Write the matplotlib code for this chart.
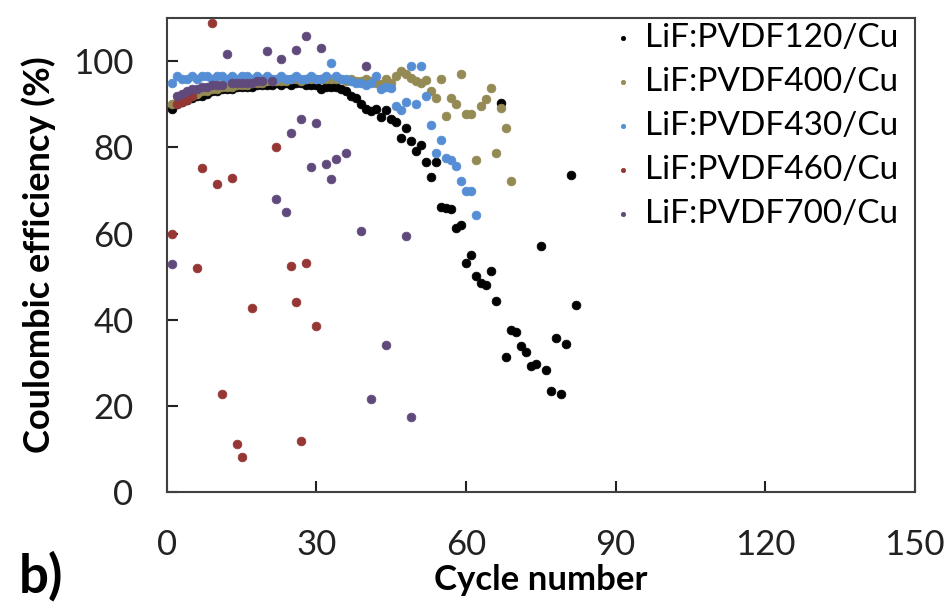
import matplotlib
matplotlib.use("Agg")
import matplotlib.pyplot as plt

plt.rcParams['font.family'] = ['Lato', 'DejaVu Sans']

# ---- data ----
x120 = list(range(1, 83))
y120 = [89, 90, 90.5, 91, 91.5, 92, 92, 92.5, 93, 93,
        93.5, 93.5, 93.5, 94, 94, 94, 94, 94.5, 94.5, 94.5,
        94.5, 95, 94.5, 95, 94.5, 95, 95, 94.5, 94.5, 94.5,
        93.5, 94, 94, 94, 93.5, 93, 92, 91.5, 90, 89,
        88.5, 89, 87, 88.8, 86.5, 86, 82.2, 84.6, 81.5, 79.1,
        80.5, 76.6, 73.1, 76.7, 66.2, 66, 65.7, 61.3, 61.9, 53.2,
        55.1, 50.1, 48.5, 48.1, 51.2, 44.3, 90.4, 31.4, 37.5, 37.1,
        33.9, 32.6, 29.3, 29.8, 57, 28.2, 23.5, 35.7, 22.8, 34.3,
        73.7, 43.5]

x400 = list(range(1, 70))
y400 = [90, 90.5, 91, 91.5, 92, 92.5, 93, 93, 93.5, 93.5,
        94, 94, 94, 94.5, 94.5, 94.5, 95, 95, 95, 95.5,
        95.5, 95.5, 95.5, 95.5, 96, 96, 95.5, 96, 96, 96,
        96, 96, 96, 96, 96, 95.5, 96, 95.5, 95.5, 96,
        95.5, 95, 94.7, 96, 95, 96.5, 97.7, 97, 96.2, 95.5,
        95, 95.6, 93, 91.5, 95.8, 87.4, 91.5, 90, 97.1, 87.7,
        87.7, 77, 89.6, 91.2, 93.9, 78.8, 89.2, 84.4, 72.2]

x430 = list(range(1, 63))
y430 = [95, 96.5, 96, 96, 96.5, 96, 96.5, 96.5, 96, 96.5,
        96.5, 96, 96.5, 96, 96.5, 96.5, 96, 96.5, 96, 96.5,
        96, 96, 96.5, 96, 96, 96.5, 96, 96, 96.5, 96,
        96, 96.5, 99.7, 96.5, 96, 96, 95.5, 95, 95, 94.5,
        95, 96.6, 93.5, 94, 93.9, 89.6, 88.8, 90.5, 98.8, 90,
        98.8, 91.9, 85.3, 78.6, 81.7, 77.6, 77, 75.7, 72.2, 69.8,
        69.8, 64.4]

x460 = [1, 2, 3, 4, 5, 6, 7, 9, 10, 11, 13, 14, 15, 17, 22, 25, 26, 27, 28, 30]
y460 = [60, 90, 90.5, 91, 92, 52, 75.3, 109, 71.6, 22.8, 73, 11.2, 8.1, 42.7,
        80, 52.4, 44.1, 11.7, 53.2, 38.5]

x700 = [1, 2, 3, 4, 5, 6, 7, 8, 9, 10, 11, 12, 13, 14, 15, 16, 17, 18, 19, 20,
        21, 22, 23, 24, 25, 26, 27, 28, 29, 30, 31, 32, 33, 34, 36, 39, 40, 41,
        44, 48, 49]
y700 = [53, 92, 92.5, 93, 93.5, 93.5, 94, 94, 94.5, 94.5, 94.5, 101.8, 95, 95,
        95, 95, 95, 95.5, 95.5, 102.4, 95.5, 68, 100.5, 65, 83.4, 102.6, 86.5,
        105.9, 75.5, 85.6, 103, 76.2, 72.6, 77.4, 78.8, 60.5, 98.9, 21.5, 34.2,
        59.4, 17.3]

series = [
    ("LiF:PVDF120/Cu", x120, y120, "#000000"),
    ("LiF:PVDF400/Cu", x400, y400, "#948A54"),
    ("LiF:PVDF430/Cu", x430, y430, "#558ED5"),
    ("LiF:PVDF460/Cu", x460, y460, "#953735"),
    ("LiF:PVDF700/Cu", x700, y700, "#604A7B"),
]

xticks = [0, 30, 60, 90, 120, 150]
yticks = [0, 20, 40, 60, 80, 100]

fig = plt.figure(figsize=(9.53, 6.08), dpi=100)
ax = fig.add_axes([0.175, 0.191, 0.785, 0.779])

for label, xs, ys, c in series:
    ax.scatter(xs, ys, s=40, color=c, edgecolors=c, linewidths=0.5,
               label=label, zorder=3, clip_on=True)

ax.set_xlim(0, 150)
ax.set_ylim(0, 110)
ax.set_xticks(xticks)
ax.set_yticks(yticks)
ax.tick_params(direction='in', length=8, width=1.5, labelsize=25,
               colors='#222222')
ax.tick_params(axis='y', pad=24)
ax.tick_params(axis='x', pad=27)
for sp in ax.spines.values():
    sp.set_color('#404040')
    sp.set_linewidth(1.5)

ax.set_xlabel("Cycle number", fontsize=25, fontweight='bold', labelpad=2)
ax.set_ylabel("Coulombic efficiency (%)", fontsize=26, fontweight='bold', labelpad=12)

leg = ax.legend(loc='upper right', fontsize=24, frameon=False, markerscale=0.5,
                handletextpad=0.15, borderaxespad=0.1, labelspacing=0.42,
                handlelength=1.0, bbox_to_anchor=(1.0, 1.025))

fig.text(0.02, 0.025, "b)", fontsize=38, fontweight='bold')

fig.savefig("out.png", dpi=100)
